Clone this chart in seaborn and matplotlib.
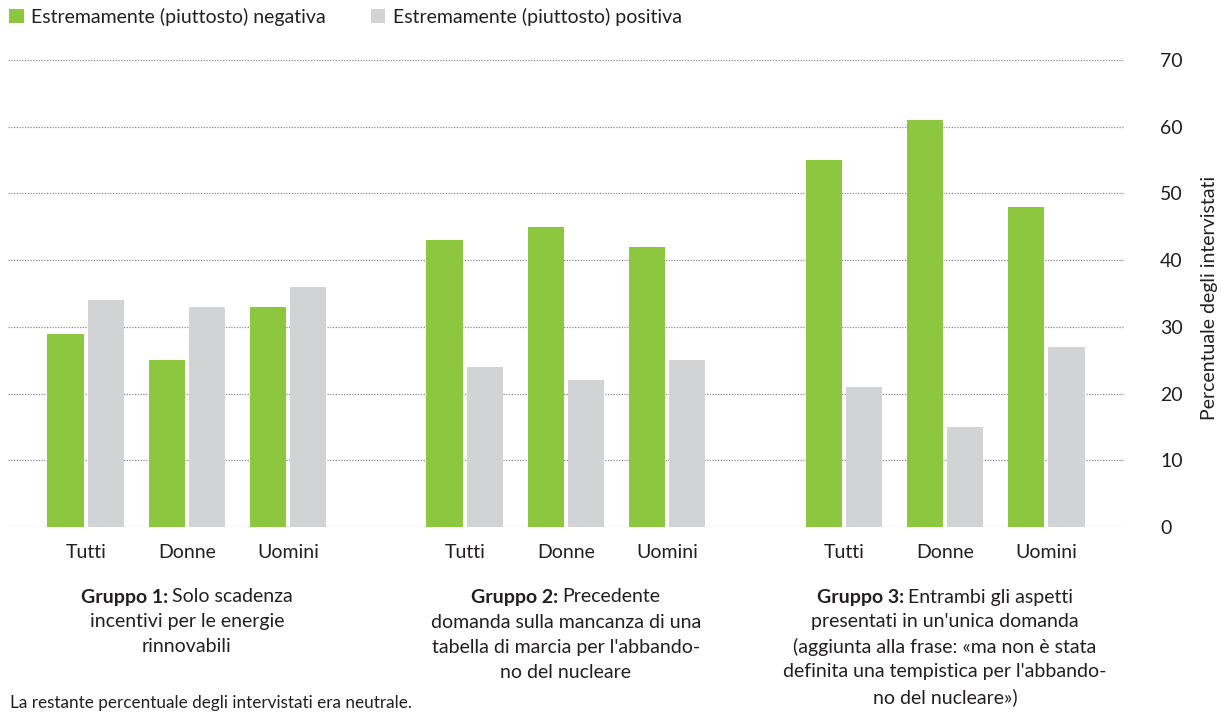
import matplotlib
matplotlib.use("Agg")
import matplotlib.pyplot as plt
from matplotlib.patches import Patch
import seaborn as sns
import pandas as pd

# --- data -------------------------------------------------------------
categories = ["Tutti", "Donne", "Uomini"] * 3
positions = [0, 1, 2, 3.75, 4.75, 5.75, 7.5, 8.5, 9.5]
negativa = [29, 25, 33, 43, 45, 42, 55, 61, 48]
positiva = [34, 33, 36, 24, 22, 25, 21, 15, 27]
series_names = ["Estremamente (piuttosto) negativa",
                "Estremamente (piuttosto) positiva"]
y_ticks = [0, 10, 20, 30, 40, 50, 60, 70]
y_label = "Percentuale degli intervistati"
group_centers = [1, 4.75, 8.5]
group_heads = ["Gruppo 1:", "Gruppo 2:", "Gruppo 3:"]
group_lines = [
    ["Solo scadenza", "incentivi per le energie", "rinnovabili"],
    ["Precedente", "domanda sulla mancanza di una",
     "tabella di marcia per l'abbando-", "no del nucleare"],
    ["Entrambi gli aspetti", "presentati in un'unica domanda",
     "(aggiunta alla frase: «ma non è stata",
     "definita una tempistica per l'abbando-", "no del nucleare»)"],
]
footnote = "La restante percentuale degli intervistati era neutrale."

GREEN = "#8dc63f"
GREY = "#d1d3d4"
TXT = "#231f20"

df = pd.DataFrame({
    "pos": positions * 2,
    "valore": negativa + positiva,
    "serie": [series_names[0]] * len(negativa) + [series_names[1]] * len(positiva),
})

# --- figure -----------------------------------------------------------
sns.set_theme(style="white")
plt.rcParams["font.family"] = ["Lato", "DejaVu Sans"]

W, H = 1221, 713
fig = plt.figure(figsize=(W / 100, H / 100), dpi=100)
ax = fig.add_axes([8 / W, 1 - 527 / H, (1125 - 8) / W, (527 - 60) / H])

sns.barplot(data=df, x="pos", y="valore", hue="serie", native_scale=True,
            palette=[GREEN, GREY], width=0.8, gap=0.1, saturation=1,
            linewidth=0, ax=ax, legend=False, zorder=3)

ax.set_xlim(-0.77, 10.28)
ax.set_ylim(0, 70)
ax.set_yticks(y_ticks)
ax.grid(axis="y", color="#8a8a8a", linestyle=(0, (1, 1.2)), linewidth=0.9, zorder=0)
ax.grid(axis="x", visible=False)
for s in ax.spines.values():
    s.set_visible(False)
ax.set_xticks(positions, categories)
ax.tick_params(axis="x", length=0, pad=12, labelsize=14, labelcolor=TXT)
ax.yaxis.tick_right()
ax.tick_params(axis="y", left=False, right=False, labelleft=False, labelright=True,
               length=0, labelsize=14, labelcolor=TXT)
ax.set_xlabel("")
ax.yaxis.set_label_position("right")
ax.set_ylabel(y_label, fontsize=14, color=TXT, rotation=90)
ax.yaxis.label.set_verticalalignment("center")
ax.yaxis.label.set_horizontalalignment("center")
ax.yaxis.set_label_coords((1210 - 8) / (1125 - 8), 0.49)

# legend
handles = [Patch(facecolor=GREEN, edgecolor="none"),
           Patch(facecolor=GREY, edgecolor="none")]
fig.legend(handles, series_names, loc="upper left", bbox_to_anchor=(9 / W, 1 - 8 / H),
           ncol=2, frameon=False, fontsize=14, handlelength=0.75, handleheight=0.75,
           handletextpad=0.4, columnspacing=2.3, labelcolor=TXT,
           borderpad=0, borderaxespad=0)

# group captions with a bold lead-in on the first line
fig.canvas.draw()
renderer = fig.canvas.get_renderer()

# right-hand tick labels start 35 px right of the plot area
ax_right = ax.get_window_extent(renderer).x1
lab0 = ax.get_yticklabels()[0].get_window_extent(renderer).x0
ax.tick_params(axis="y", pad=(ax_right + 35 - lab0) * 72 / 100 + ax.yaxis.get_major_ticks()[0].get_pad())
fig.canvas.draw()

line_h = 25
first_y = 597
for xc, head, lines in zip(group_centers, group_heads, group_lines):
    xc_px = ax.transData.transform((xc, 0))[0]
    tb = fig.text(0, 1 - first_y / H, head, fontsize=14, fontweight="bold",
                  color=TXT, va="center", ha="left")
    tr = fig.text(0, 1 - first_y / H, lines[0], fontsize=14,
                  color=TXT, va="center", ha="left")
    wb = tb.get_window_extent(renderer).width
    wr = tr.get_window_extent(renderer).width
    space = 4
    left = xc_px - (wb + space + wr) / 2
    tb.set_x(left / W)
    tr.set_x((left + wb + space) / W)
    for i, line in enumerate(lines[1:], start=1):
        fig.text(xc_px / W, 1 - (first_y + i * line_h) / H, line, fontsize=14,
                 color=TXT, va="center", ha="center")

fig.text(10 / W, 1 - 703 / H, footnote, fontsize=12.3, color=TXT,
         va="center", ha="left")

fig.savefig("out.png", dpi=100)
